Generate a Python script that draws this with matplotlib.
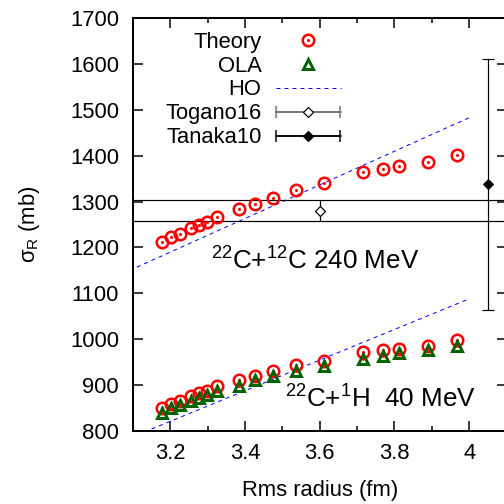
import numpy as np
import matplotlib
matplotlib.use("Agg")
import matplotlib.pyplot as plt
from matplotlib.lines import Line2D
from matplotlib.collections import LineCollection
from matplotlib.container import ErrorbarContainer
from matplotlib.legend_handler import HandlerErrorbar

plt.rcParams['font.family'] = ['Liberation Sans', 'DejaVu Sans']
plt.rcParams['mathtext.fontset'] = 'custom'
plt.rcParams['mathtext.rm'] = 'Liberation Sans'
plt.rcParams['mathtext.default'] = 'regular'

# rms radii (fm) of the model densities
radius = [3.177, 3.202, 3.227, 3.255, 3.277, 3.298, 3.325, 3.385, 3.426,
          3.476, 3.535, 3.611, 3.717, 3.768, 3.812, 3.890, 3.967]

# 22C + 12C at 240 MeV
theory_c = [1212, 1222, 1229, 1242, 1250, 1256, 1267, 1284, 1294,
            1308, 1325, 1340, 1364, 1370, 1377, 1386, 1402]

# 22C + 1H at 40 MeV
theory_h = [849, 858, 866, 877, 882, 888, 897, 911, 920,
            931, 944, 953, 971, 976, 979, 986, 998]
ola_h = [840, 850, 857, 866, 871, 878, 887, 899, 910,
         920, 931, 942, 956, 963, 969, 976, 985]

# HO model lines
ho_radius = [3.11, 4.00]
ho_c = [1157, 1483]
ho_h = [791, 1088]

# experiments
togano_r, togano_sig, togano_err = 3.60, 1280, 23
tanaka_r, tanaka_sig, tanaka_err = 4.05, 1338, 274

xticks = [3.2, 3.4, 3.6, 3.8, 4.0]
xtick_labels = ['3.2', '3.4', '3.6', '3.8', '4']
yticks = np.arange(800, 1701, 100)

fig = plt.figure(figsize=(7, 7), dpi=72)
ax = fig.add_axes([0.264, 0.145, 0.741, 0.819])

red = '#ff0000'
green = '#006400'

# theory: open circles with a center dot
th1, = ax.plot(radius, theory_c, 'o', ms=11.5, mfc='none', mec=red, mew=2.5, zorder=4)
ax.plot(radius, theory_c, 'o', ms=2, color=red, zorder=5)
ax.plot(radius, theory_h, 'o', ms=11.5, mfc='none', mec=red, mew=2.5, zorder=4)
ax.plot(radius, theory_h, 'o', ms=2, color=red, zorder=5)
dot1, = ax.plot([], [], 'o', ms=2, color=red)

# OLA: open triangles
ola1, = ax.plot(radius, ola_h, '^', ms=10, mfc='none', mec=green, mew=3, zorder=6)
ax.plot(radius, ola_h, 'o', ms=1.5, color=red, zorder=7)

# HO
ho1, = ax.plot(ho_radius, ho_c, color='#0000ff', lw=1, ls=(0, (4, 4)))
ax.plot(ho_radius, ho_h, color='#0000ff', lw=1, ls=(0, (4, 4)))

# experimental band lines
ax.axhline(togano_sig + togano_err, color='black', lw=1.2)
ax.axhline(togano_sig - togano_err, color='black', lw=1.2)

ax.errorbar([togano_r], [togano_sig], yerr=[togano_err], fmt='D', ms=7,
            mfc='white', mec='black', mew=1.2, ecolor='black', elinewidth=1.2,
            capsize=0, zorder=6)
ax.errorbar([tanaka_r], [tanaka_sig], yerr=[tanaka_err], fmt='D', ms=7,
            color='black', ecolor='black', elinewidth=1.2, capsize=6,
            capthick=1.2, zorder=6)


def err_proxy(mfc, color):
    line = Line2D([], [], marker='D', ms=7, mfc=mfc, mec='black', mew=1.2,
                  color=color, lw=1.5)
    cap = Line2D([], [], marker='|', ms=12, color=color, mew=1.5)
    bars = LineCollection([], colors=color, linewidths=1.5)
    return ErrorbarContainer((line, [cap, cap], [bars]), has_xerr=True, has_yerr=False)


tog_h = err_proxy('white', '#707070')
tan_h = err_proxy('black', 'black')

leg = ax.legend([(th1, dot1), (ola1,), ho1, tog_h, tan_h],
                ['Theory', 'OLA', 'HO', 'Togano16', 'Tanaka10'],
                loc='upper right', bbox_to_anchor=(0.556, 0.967),
                frameon=False, markerfirst=False, fontsize=22,
                handlelength=2.95, handletextpad=0.65, labelspacing=0.13,
                borderpad=0, borderaxespad=0,
                handler_map={ErrorbarContainer: HandlerErrorbar(xerr_size=1.45)})

ax.text(3.587, 1151, '$^{22}$C+$^{12}$C 240 MeV', fontsize=26,
        ha='center', va='baseline')
ax.text(3.762, 850, '$^{22}$C+$^{1}$H  40 MeV', fontsize=26,
        ha='center', va='baseline')

ax.set_xlim(3.1, 4.1)
ax.set_ylim(800, 1700)
ax.set_xticks(xticks)
ax.set_xticklabels(xtick_labels)
ax.set_xticks(np.arange(3.1, 4.11, 0.1), minor=True)
ax.set_yticks(yticks)
ax.tick_params(which='both', direction='in', top=True, right=True, labelsize=22)
ax.tick_params(which='major', length=10, width=1.5, pad=12)
ax.tick_params(which='minor', length=5, width=1.5)
ax.tick_params(axis='y', pad=14)
for s in ax.spines.values():
    s.set_linewidth(2)

ax.set_xlabel('Rms radius (fm)', fontsize=22, labelpad=16)
ax.set_ylabel('σ$_R$ (mb)', fontsize=22, labelpad=28)

fig.savefig('out.png', dpi=72)
